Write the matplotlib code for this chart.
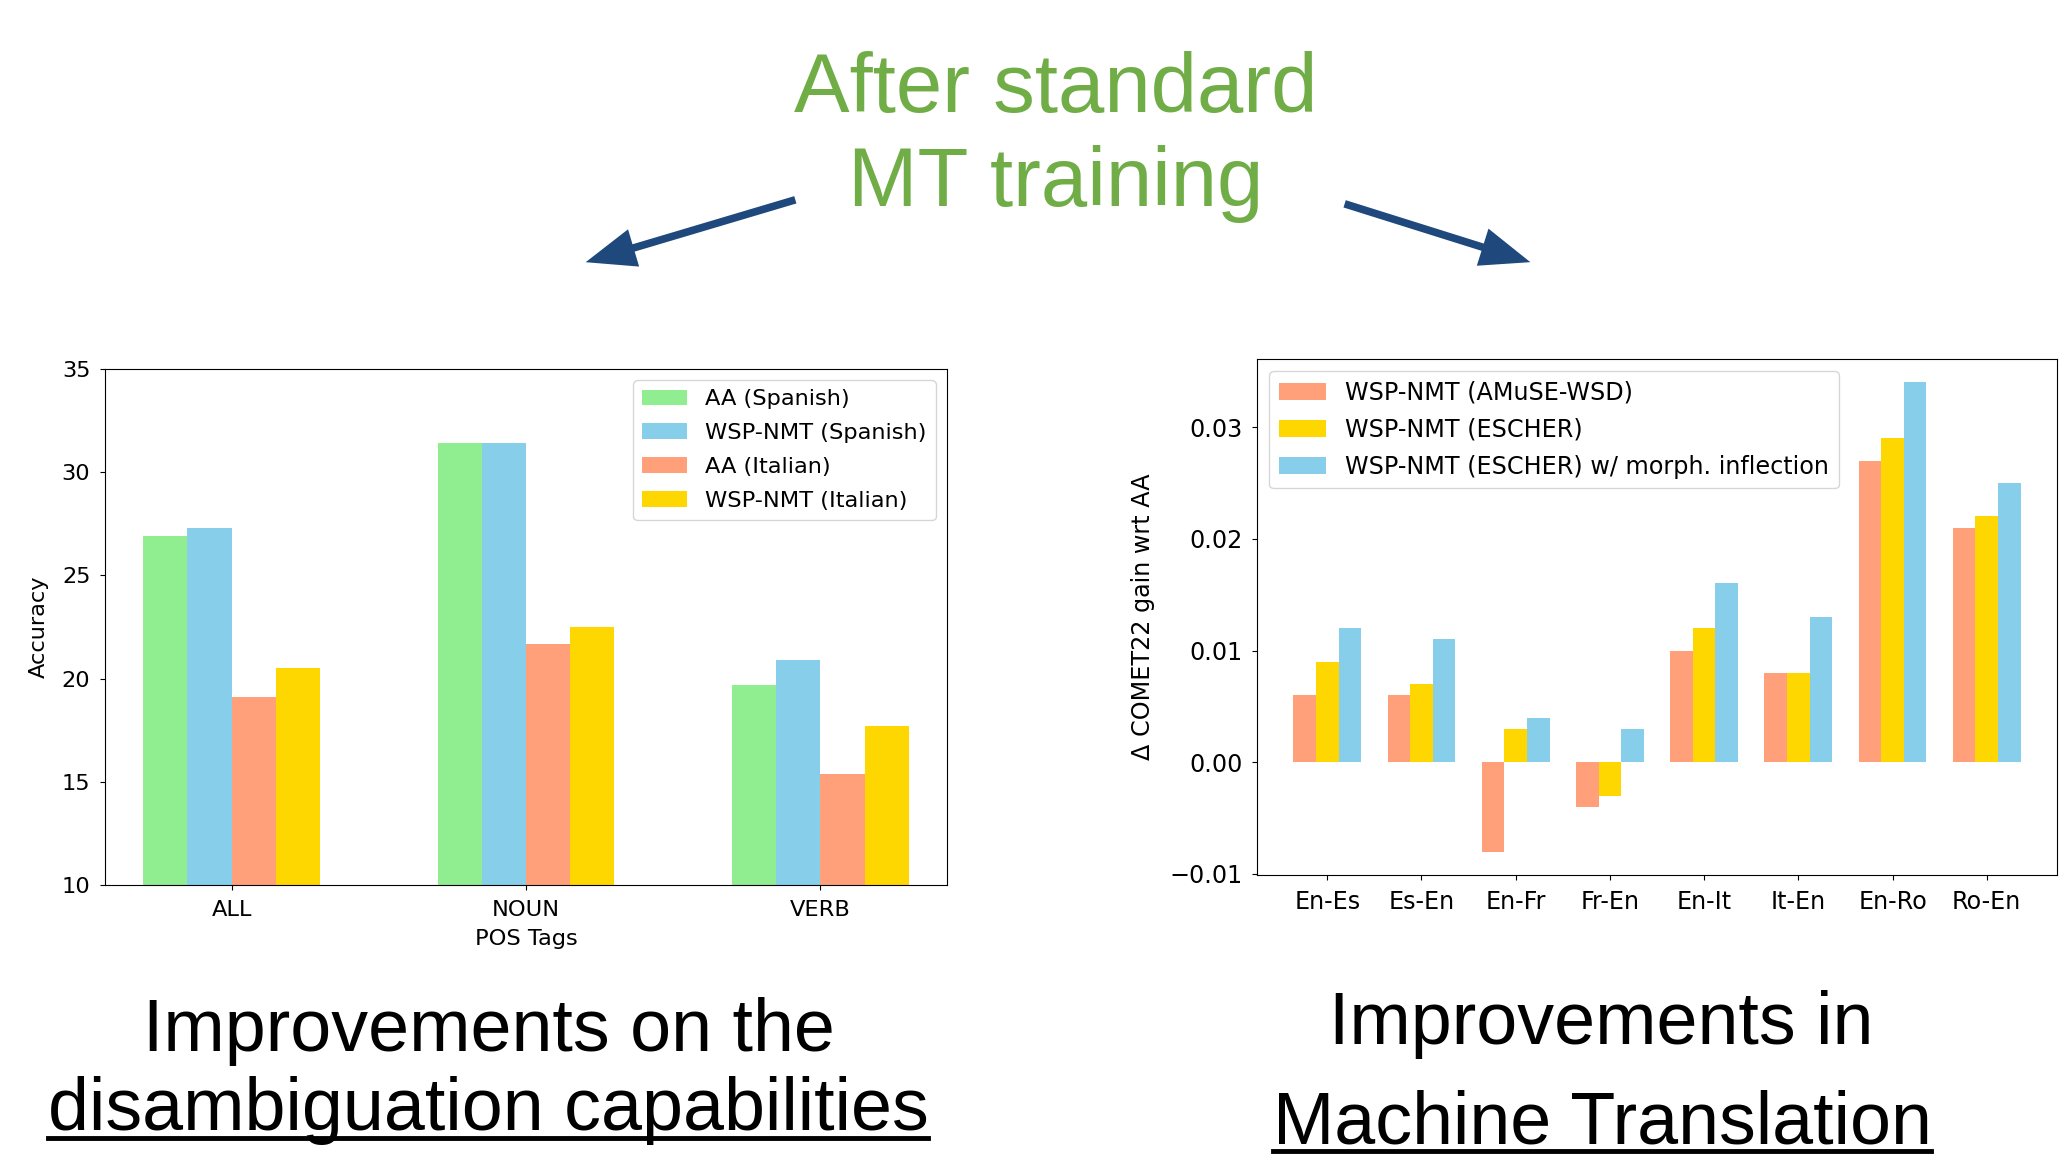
import matplotlib
matplotlib.use("Agg")
import matplotlib.pyplot as plt
import numpy as np
from matplotlib.patches import FancyArrowPatch
from matplotlib.lines import Line2D

# left chart: POS-tag accuracy
pos_tags = ["ALL", "NOUN", "VERB"]
pos_series = ["AA (Spanish)", "WSP-NMT (Spanish)", "AA (Italian)", "WSP-NMT (Italian)"]
aa_spanish = [26.9, 31.4, 19.7]
wsp_spanish = [27.3, 31.4, 20.9]
aa_italian = [19.1, 21.7, 15.4]
wsp_italian = [20.5, 22.5, 17.7]

# right chart: COMET22 gain per language pair
lang_pairs = ["En-Es", "Es-En", "En-Fr", "Fr-En", "En-It", "It-En", "En-Ro", "Ro-En"]
mt_series = ["WSP-NMT (AMuSE-WSD)", "WSP-NMT (ESCHER)", "WSP-NMT (ESCHER) w/ morph. inflection"]
gain_amuse = [0.006, 0.006, -0.008, -0.004, 0.010, 0.008, 0.027, 0.021]
gain_escher = [0.009, 0.007, 0.003, -0.003, 0.012, 0.008, 0.029, 0.022]
gain_morph = [0.012, 0.011, 0.004, 0.003, 0.016, 0.013, 0.034, 0.025]

GREEN = "#90ee90"
BLUE = "#87ceeb"
SALMON = "#ffa07a"
GOLD = "#ffd700"

W, H = 2060, 1160
fig = plt.figure(figsize=(W / 100, H / 100), dpi=100)
fig.patch.set_facecolor("white")

# ---- left chart
fs1 = 16.2
ax1 = fig.add_axes([105 / W, 1 - 885 / H, 842 / W, 516 / H])
x = np.arange(len(pos_tags))
w = 0.15
for i, (vals, col, lab) in enumerate(zip(
        [aa_spanish, wsp_spanish, aa_italian, wsp_italian],
        [GREEN, BLUE, SALMON, GOLD], pos_series)):
    ax1.bar(x + (i - 1.5) * w, vals, w, color=col, label=lab)
ax1.set_ylim(10, 35)
ax1.set_xticks(x)
ax1.set_xticklabels(pos_tags)
ax1.set_ylabel("Accuracy", fontsize=fs1, labelpad=9)
ax1.set_xlabel("POS Tags", fontsize=fs1, labelpad=7)
ax1.tick_params(labelsize=fs1, pad=7)
ax1.legend(loc="upper right", fontsize=fs1, labelspacing=0.62)

# ---- right chart
fs2 = 17.2
ax2 = fig.add_axes([1257 / W, 1 - 875 / H, 800 / W, 516 / H])
x2 = np.arange(len(lang_pairs))
w2 = 0.24
for i, (vals, col, lab) in enumerate(zip(
        [gain_amuse, gain_escher, gain_morph], [SALMON, GOLD, BLUE], mt_series)):
    ax2.bar(x2 + (i - 1) * w2, vals, w2, color=col, label=lab)
ax2.set_xticks(x2)
ax2.set_xticklabels(lang_pairs)
ax2.set_yticks([-0.01, 0.0, 0.01, 0.02, 0.03])
ax2.set_ylabel("Δ COMET22 gain wrt AA", fontsize=fs2, labelpad=10)
ax2.tick_params(labelsize=fs2, pad=7)
ax2.legend(loc="upper left", fontsize=fs2, labelspacing=0.55)

# ---- slide texts
sans = ["Liberation Sans", "DejaVu Sans"]
fig.text(1056 / W, 1 - 112 / H, "After standard", ha="center", va="baseline",
         fontsize=60, color="#70ad47", family=sans)
fig.text(1056 / W, 1 - 206 / H, "MT training", ha="center", va="baseline",
         fontsize=60, color="#70ad47", family=sans)

for tail, tip in [((798, 199), (583, 263)), ((1342, 203), (1533, 263))]:
    arr = FancyArrowPatch((tail[0], H - tail[1]), (tip[0], H - tip[1]),
                          transform=None,
                          arrowstyle="simple,head_length=3.6,head_width=2.8,tail_width=0.55",
                          mutation_scale=10, color="#1f497d", lw=0)
    fig.add_artist(arr)

fig.text(489 / W, 1 - 1051 / H, "Improvements on the", ha="center", va="baseline",
         fontsize=53, color="black", family=sans)
t1 = fig.text(488 / W, 1 - 1130 / H, "disambiguation capabilities", ha="center",
              va="baseline", fontsize=53, color="black", family=sans)
fig.text(1601 / W, 1 - 1044 / H, "Improvements in", ha="center", va="baseline",
         fontsize=53, color="black", family=sans)
t2 = fig.text(1602 / W, 1 - 1143 / H, "Machine Translation", ha="center",
              va="baseline", fontsize=53, color="black", family=sans)

# underline the second lines
fig.canvas.draw()
renderer = fig.canvas.get_renderer()
for t, base in [(t1, 1130), (t2, 1143)]:
    bb = t.get_window_extent(renderer)
    y = H - base - 8
    fig.add_artist(Line2D([bb.x0, bb.x1], [y, y], transform=None,
                          color="black", lw=3.5))

fig.savefig("out.png", dpi=100)
